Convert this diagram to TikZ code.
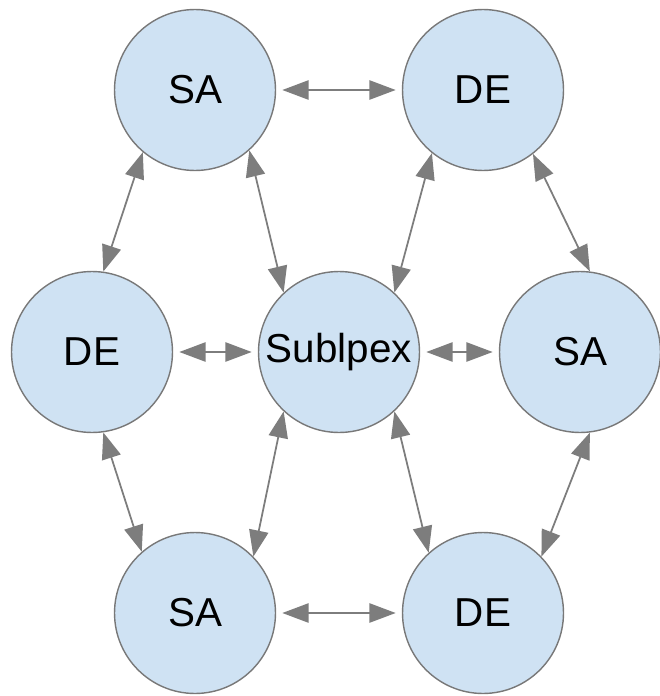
\documentclass[tikz,border=0pt]{standalone}
\usepackage{fontspec}
\setmainfont{Liberation Sans}
\definecolor{nodeBlue}{RGB}{207,226,243}
\definecolor{rimGray}{RGB}{120,120,120}
\definecolor{arrowGray}{RGB}{125,125,125}
\usetikzlibrary{arrows.meta}

\begin{document}
\begin{tikzpicture}[x=0.02cm, y=-0.02cm,
    algo/.style={circle, draw=rimGray, line width=0.8pt, fill=nodeBlue,
      minimum size=3.22cm, inner sep=0pt, font=\fontsize{23}{27}\selectfont},
    link/.style={{Triangle[length=15pt,width=11pt]}-{Triangle[length=15pt,width=11pt]},
      arrowGray, line width=1pt},
    spaced/.style={shorten <=3.5pt, shorten >=3.5pt}]
        \useasboundingbox (0,0) rectangle (659,696);
        % Algorithm nodes
        \node[algo] (sa1) at (195,90) {SA};
        \node[algo] (de1) at (483,90) {DE};
        \node[algo] (de2) at (92,352) {DE};
        \node[algo] (sub) at (339,352) {Sublpex};
        \node[algo] (sa2) at (580,352) {SA};
        \node[algo] (sa3) at (195,613) {SA};
        \node[algo] (de3) at (483,613) {DE};
        % Horizontal links
        \draw[link, spaced] (sa1) -- (de1);
        \draw[link, spaced] (de2) -- (sub);
        \draw[link, spaced] (sub) -- (sa2);
        \draw[link, spaced] (sa3) -- (de3);
        % Upper diagonal links
        \draw[link] (sa1.230) -- (de2.82);
        \draw[link] (sa1.312) -- (sub.133);
        \draw[link] (de1.231) -- (sub.47);
        \draw[link] (de1.308) -- (sa2.83);
        % Lower diagonal links
        \draw[link] (de2.278) -- (sa3.131);
        \draw[link] (sub.227) -- (sa3.44);
        \draw[link] (sub.313) -- (de3.132);
        \draw[link] (sa2.277) -- (de3.44);
      \end{tikzpicture}
\end{document}
